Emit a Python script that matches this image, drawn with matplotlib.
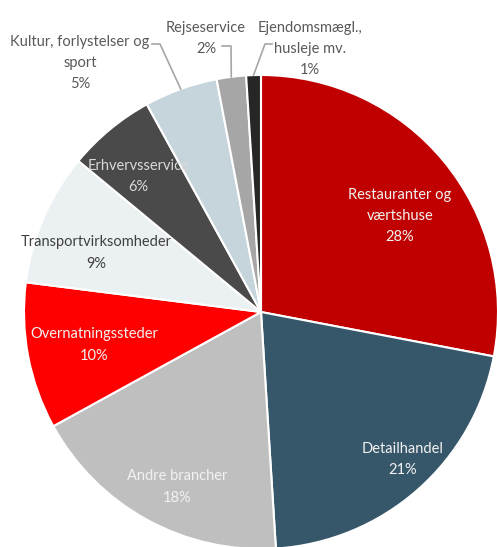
import numpy as np
import matplotlib.pyplot as plt

labels = ['Restauranter og\nværtshuse', 'Detailhandel', 'Andre brancher',
          'Overnatningssteder', 'Transportvirksomheder', 'Erhvervsservice',
          'Kultur, forlystelser og\nsport', 'Rejseservice',
          'Ejendomsmægl.,\nhusleje mv.']
shares = [28, 21, 18, 10, 9, 6, 5, 2, 1]
colors = ['#C00000', '#36566A', '#BFBFBF', '#FF0000', '#EBF0F3',
          '#4A4A4A', '#C6D5DC', '#A6A6A6', '#262626']
text_colors = ['#F2F2F2', '#F2F2F2', '#F2F2F2', '#F2F2F2', '#404040',
               '#D9D9D9', '#595959', '#595959', '#595959']
# inside labels: radius fraction and angle tweak (deg); None = outside label
label_r = [0.713, 0.861, 0.819, 0.717, 0.738, 0.772, None, None, None]
label_dang = [-5.0, 2.4, 3.2, 0.4, 3.7, 2.5, 0, 0, 0]
# outside labels, relative to pie centre (pixels)
outside_pos = {6: (-181, 277), 7: (-55, 291), 8: (49, 291)}
elbows = {6: (-101, 268), 7: (-30, 266), 8: (4, 268)}
ends = {6: (-109, 268), 7: (-39, 266), 8: (11, 268)}


def main():
    plt.rcParams['font.family'] = ['Lato', 'DejaVu Sans']
    fig = plt.figure(figsize=(4.97, 5.47), dpi=100)
    ax = fig.add_axes([0, 0, 1, 1])
    cx, cy, r = 261, 547 - 312, 237

    wedges, _ = ax.pie(shares, colors=colors, startangle=90, counterclock=False,
                       center=(cx, cy), radius=r,
                       wedgeprops=dict(edgecolor='white', linewidth=1.5))
    ax.set_xlim(0, 497)
    ax.set_ylim(0, 547)
    ax.set_aspect('equal')
    ax.axis('off')

    for i, w in enumerate(wedges):
        mid = (w.theta1 + w.theta2) / 2
        txt = labels[i] + '\n' + str(shares[i]) + '%'
        if label_r[i] is not None:
            a = np.deg2rad(mid + label_dang[i])
            x = cx + label_r[i] * r * np.cos(a)
            y = cy + label_r[i] * r * np.sin(a)
            ax.text(x, y, txt, ha='center', va='center', fontsize=10.5,
                    color=text_colors[i], linespacing=1.65)
        else:
            a = np.deg2rad(mid)
            px = cx + r * np.cos(a)
            py = cy + r * np.sin(a)
            ex, ey = elbows[i]
            fx, fy = ends[i]
            ax.plot([px, cx + ex, cx + fx], [py, cy + ey, cy + fy],
                    color='#A6A6A6', linewidth=1.2)
            tx, ty = outside_pos[i]
            ax.text(cx + tx, cy + ty, txt, ha='center', va='top',
                    fontsize=10.5, color=text_colors[i], linespacing=1.65)

    fig.savefig('out.png', dpi=100)


if __name__ == '__main__':
    main()
